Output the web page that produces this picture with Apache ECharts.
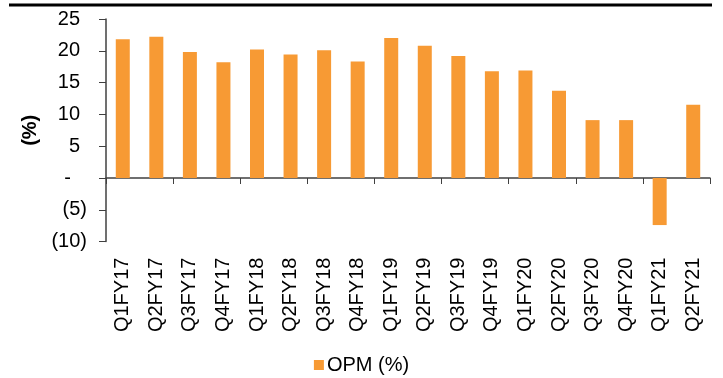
<!DOCTYPE html>
<html>
<head>
<meta charset="utf-8">
<script src="https://cdn.jsdelivr.net/npm/echarts@6/dist/echarts.min.js"></script>
<style>
  html, body { margin: 0; padding: 0; background: #fff; }
  #chart { width: 723px; height: 378px; }
</style>
</head>
<body>
<div id="chart"></div>
<script>
// quarters
var categories = ["Q1FY17", "Q2FY17", "Q3FY17", "Q4FY17", "Q1FY18", "Q2FY18", "Q3FY18", "Q4FY18",
  "Q1FY19", "Q2FY19", "Q3FY19", "Q4FY19", "Q1FY20", "Q2FY20", "Q3FY20", "Q4FY20", "Q1FY21", "Q2FY21"];
// OPM (%)
var opm = [21.8, 22.2, 19.8, 18.2, 20.2, 19.4, 20.1, 18.3, 22.0, 20.8, 19.2, 16.8, 16.9, 13.7, 9.1, 9.1, -7.4, 11.5];
var seriesName = "OPM (%)";
// excel style tick labels
var yTicks = { "25": "25", "20": "20", "15": "15", "10": "10", "5": "5", "0": "-", "-5": "(5)", "-10": "(10)" };

var myChart = echarts.init(document.getElementById("chart"));
var axisColor = "#404040";
var font = "Liberation Sans, Arial, sans-serif";

myChart.setOption({
  animation: false,
  legend: {
    data: [seriesName],
    top: 350,
    left: "center",
    icon: "rect",
    itemWidth: 10,
    itemHeight: 10,
    itemGap: 4,
    textStyle: { color: "#000", fontSize: 20, fontFamily: font, padding: [0, 0, 0, -2] },
  },
  graphic: [
    {
      type: "line",
      shape: { x1: 9, y1: 5, x2: 712, y2: 5 },
      style: { stroke: "#000", lineWidth: 3 },
    },
  ],
  grid: { left: 106, right: 13, top: 19, bottom: 136.4, containLabel: false },
  xAxis: [
    {
      type: "category",
      data: categories,
      axisLine: { onZero: true, lineStyle: { color: axisColor, width: 1.5 } },
      axisTick: { show: true, length: 6, lineStyle: { color: axisColor } },
      axisLabel: { show: false },
    },
    {
      type: "category",
      data: categories,
      position: "bottom",
      axisLine: { show: false, onZero: false },
      axisTick: { show: false },
      axisLabel: {
        rotate: 90,
        margin: 16,
        color: "#000",
        fontSize: 20,
        fontFamily: font,
      },
    },
  ],
  yAxis: {
    type: "value",
    min: -10,
    max: 25,
    interval: 5,
    name: "(%)",
    nameLocation: "middle",
    nameGap: 64,
    nameRotate: 90,
    nameTextStyle: { color: "#000", fontSize: 20, fontWeight: "bold", fontFamily: font },
    axisLine: { show: true, lineStyle: { color: axisColor, width: 1.5 } },
    axisTick: { show: true, length: 7, lineStyle: { color: axisColor } },
    splitLine: { show: false },
    axisLabel: {
      color: "#000",
      fontSize: 20,
      fontFamily: font,
      margin: 19,
      formatter: function (v) {
        var t = yTicks[String(v)];
        if (v > 0) return "{p|" + t + "}";
        if (v === 0) return "{d|" + t + "}";
        return "{n|" + t + "}";
      },
      rich: {
        p: { fontSize: 20, fontFamily: font, color: "#000", padding: [0, 7, 0, 0] },
        d: { fontSize: 20, fontFamily: font, color: "#000", padding: [0, 16, 0, 0] },
        n: { fontSize: 20, fontFamily: font, color: "#000" },
      },
    },
  },
  series: [
    {
      name: seriesName,
      type: "bar",
      data: opm,
      barWidth: 14,
      itemStyle: { color: "#F79A34" },
    },
  ],
});
</script>
</body>
</html>
